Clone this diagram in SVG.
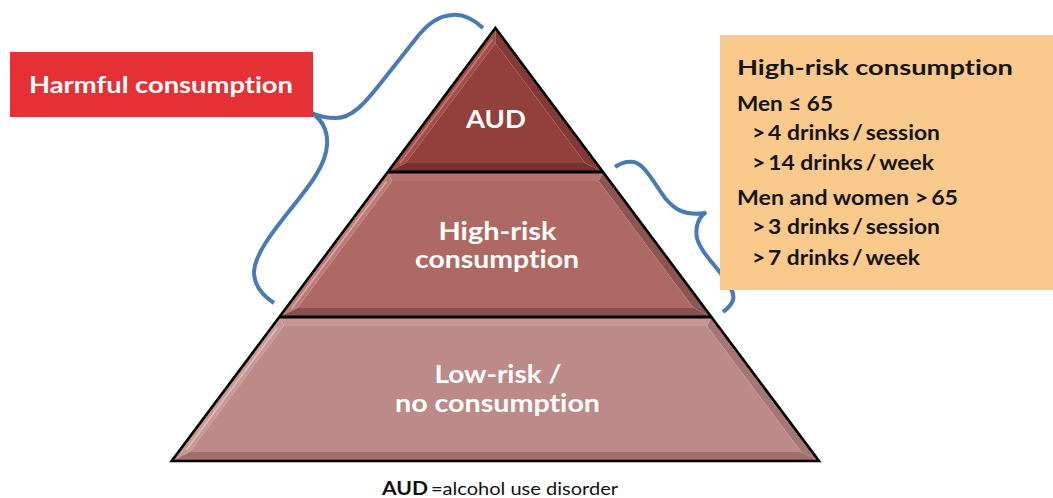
<svg xmlns="http://www.w3.org/2000/svg" width="1053" height="498" viewBox="0 0 1053 498">
<style>
text{font-variant-ligatures:none}
.lbl{font-family:Lato,"Open Sans","DejaVu Sans",sans-serif;font-weight:700;fill:#ffffff;text-anchor:middle}
.box{font-family:Lato,"Open Sans","DejaVu Sans",sans-serif;font-weight:700;fill:#141414;font-size:20px}
.brace{fill:none;stroke:#4a7ab3;stroke-width:4;stroke-linecap:butt;stroke-linejoin:round}
.edge{fill:none;stroke:#000;stroke-width:2.6;stroke-linejoin:miter}
.hl{fill:none;stroke-width:1.6;stroke-linecap:round}
</style>
<rect width="1053" height="498" fill="#ffffff"/>
<g id="connectors">
<path class="brace" d="M483,28 C472,18 462,14 452,15 C438,16 428,24 418,36 L380,84 C365,103 352,118 336,118 C326,118 318,116 312,113 C322,120 328,130 327,145 C326,165 310,185 290,210 C270,235 255,255 254,272 C254,285 262,295 274,303"/>
<path class="brace" d="M615,167 C622,162 628,161 634,162 C645,165 652,180 665,198 C675,210 685,216 705,213 C698,218 695,228 697,238 C700,250 712,262 722,275 C730,285 735,293 733,300 C731,306 727,309 723,312"/>
</g>
<g id="node-harmful">
<rect x="10" y="52" width="303" height="65" fill="#e53035"/>
<text class="lbl" x="161" y="93" font-size="23" textLength="264" lengthAdjust="spacingAndGlyphs">Harmful consumption</text>
</g>
<g id="node-lowrisk">
<polygon points="279.4,317 711.4,317 707,326 283.8,326" fill="#c59796"/>
<polygon points="279.4,317 283.8,326 189.6,452 171.7,461" fill="#c69897"/>
<polygon points="711.4,317 819,461 801.2,452 707,326" fill="#a57676"/>
<polygon points="171.7,461 189.6,452 801.2,452 819,461" fill="#9f6f6e"/>
<polygon points="283.8,326 707,326 801.2,452 189.6,452" fill="#bb8a89"/>
<line class="hl" x1="277" y1="328" x2="187" y2="449" stroke="#e2bcbb"/>
<text class="lbl" x="498" y="383" font-size="24" textLength="127" lengthAdjust="spacingAndGlyphs">Low-risk /</text>
<text class="lbl" x="497.5" y="412" font-size="24" textLength="205" lengthAdjust="spacingAndGlyphs">no consumption</text>
</g>
<g id="node-highrisk">
<polygon points="387.7,172 603.1,172 598.6,181 392.2,181" fill="#b8726e"/>
<polygon points="387.7,172 392.2,181 297.3,308 279.4,317" fill="#bd7b77"/>
<polygon points="603.1,172 711.4,317 693.5,308 598.6,181" fill="#8c5552"/>
<polygon points="279.4,317 297.3,308 693.5,308 711.4,317" fill="#85504d"/>
<polygon points="392.2,181 598.6,181 693.5,308 297.3,308" fill="#ae6965"/>
<line class="hl" x1="386" y1="182" x2="292" y2="308" stroke="#d9a9a6"/>
<text class="lbl" x="497.5" y="240" font-size="24" textLength="118" lengthAdjust="spacingAndGlyphs">High-risk</text>
<text class="lbl" x="497" y="268" font-size="24" textLength="164" lengthAdjust="spacingAndGlyphs">consumption</text>
</g>
<g id="node-aud">
<polygon points="495.4,28 387.7,172 405.7,163 495.4,43" fill="#a34d48"/>
<polygon points="495.4,28 495.4,43 585.1,163 603.1,172" fill="#833935"/>
<polygon points="387.7,172 603.1,172 585.1,163 405.7,163" fill="#77312e"/>
<polygon points="495.4,43 585.1,163 405.7,163" fill="#933f3b"/>
<line class="hl" x1="492" y1="40" x2="400" y2="163" stroke="#c27a75"/>
<text class="lbl" x="496" y="128" font-size="24" textLength="60" lengthAdjust="spacingAndGlyphs">AUD</text>
</g>
<g id="pyramid-outline">
<polygon class="edge" points="495.4,28 819,461 171.7,461"/>
<line x1="387.7" y1="172" x2="603.1" y2="172" stroke="#000" stroke-width="3"/>
<line x1="279.4" y1="317" x2="711.4" y2="317" stroke="#000" stroke-width="3"/>
</g>
<g id="node-info">
<rect x="720" y="35" width="333" height="255" fill="#fac98c"/>
<text class="box" x="737" y="75" font-size="21" font-weight="900" textLength="276" lengthAdjust="spacingAndGlyphs">High-risk consumption</text>
<text class="box" x="737" y="111" textLength="96" lengthAdjust="spacingAndGlyphs">Men ≤ 65</text>
<text class="box" x="752" y="140" textLength="188" lengthAdjust="spacingAndGlyphs">&gt;&#8201;4 drinks&#8201;/&#8201;session</text>
<text class="box" x="752" y="170" textLength="182" lengthAdjust="spacingAndGlyphs">&gt;&#8201;14 drinks&#8201;/&#8201;week</text>
<text class="box" x="737" y="205" textLength="221" lengthAdjust="spacingAndGlyphs">Men and women &gt;&#8201;65</text>
<text class="box" x="752" y="234" textLength="188" lengthAdjust="spacingAndGlyphs">&gt;&#8201;3 drinks&#8201;/&#8201;session</text>
<text class="box" x="752" y="265" textLength="168" lengthAdjust="spacingAndGlyphs">&gt;&#8201;7 drinks&#8201;/&#8201;week</text>
</g>
<g id="caption">
<text x="382" y="495" font-family="Lato,'Open Sans','DejaVu Sans',sans-serif" font-size="18" fill="#111"><tspan font-weight="700" textLength="46" lengthAdjust="spacingAndGlyphs">AUD</tspan><tspan x="431" font-weight="400" textLength="187" lengthAdjust="spacingAndGlyphs">=alcohol use disorder</tspan></text>
</g>
</svg>
